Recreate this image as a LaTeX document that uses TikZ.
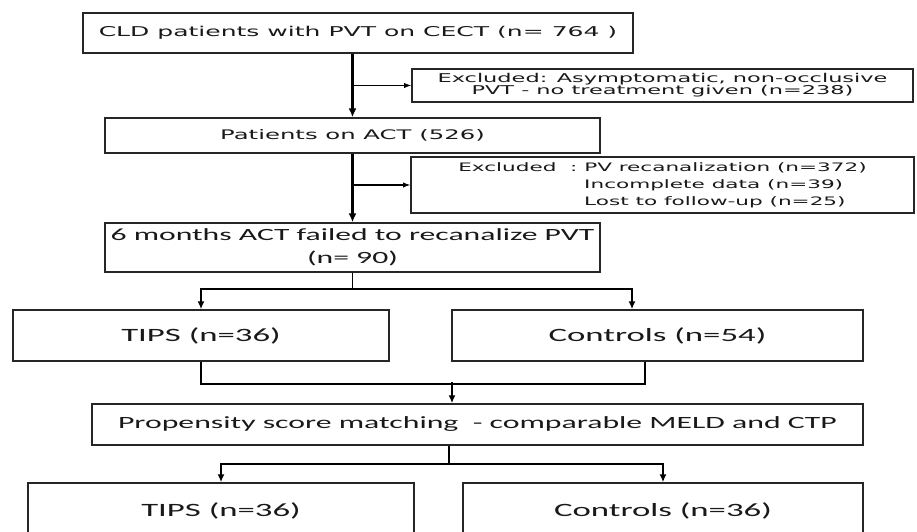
\documentclass[tikz,border=0pt]{standalone}
\usepackage{fontspec}
\setmainfont{DejaVu Sans}[FakeStretch=1.85]
\newfontfamily\calib{Carlito}[FakeStretch=1.85]
\usetikzlibrary{arrows.meta}
\begin{document}
\begin{tikzpicture}[
  box/.style={draw=black!85,line width=0.85pt,inner sep=0pt,align=center,text=black!90},
  link/.style={line width=1pt,-{Latex[length=4.5pt,width=4pt]}},
  mainlink/.style={line width=1.6pt,-{Latex[length=5pt,width=4.5pt]}},
  sidelink/.style={line width=0.6pt,-{Latex[length=4pt,width=3pt]}}]
\useasboundingbox (0,0) rectangle (18.34,10.62);

\node[box,minimum width=11cm,minimum height=0.8cm,font=\fontsize{7.7}{9}\selectfont] (cld) at (7.16,9.96) {CLD patients with PVT on CECT (n= 764 )};
\node[box,minimum width=10.02cm,minimum height=0.66cm,font=\fontsize{6.9}{6.8}\selectfont] (excl1) at (13.25,8.91) {Excluded: Asymptomatic, non-occlusive\\PVT - no treatment given (n=238)};
\node[box,minimum width=9.9cm,minimum height=0.7cm,font=\fontsize{7.49}{9}\selectfont] (act) at (7.05,7.91) {Patients on ACT (526)};
\node[box,minimum width=10.06cm,minimum height=1.12cm,font=\fontsize{6.63}{9.9}\selectfont] (excl2) at (13.25,6.92) {\begin{tabular}{@{}l@{\ }l@{}}Excluded\ \ : & PV recanalization (n=372)\\ & Incomplete data (n=39)\\ & Lost to follow-up (n=25)\end{tabular}};
\node[box,minimum width=9.9cm,minimum height=0.98cm,font=\calib\fontsize{9.74}{13}\selectfont] (fail) at (7.05,5.67) {6 months ACT failed to recanalize PVT\\(n= 90)};

\node[box,minimum width=7.52cm,minimum height=1.02cm,font=\calib\fontsize{10.7}{13}\selectfont] (tips1) at (4.02,3.91) {TIPS (n=36)};
\node[box,minimum width=8.22cm,minimum height=1.02cm,font=\calib\fontsize{10.7}{13}\selectfont] (ctrl1) at (13.15,3.91) {Controls (n=54)};
\node[box,minimum width=15.42cm,minimum height=0.82cm,font=\calib\fontsize{9.77}{12}\selectfont] (psm) at (9.55,2.13) {Propensity score matching\ \ - comparable MELD and CTP};
\node[box,minimum width=7.72cm,minimum height=1.12cm,font=\calib\fontsize{10.7}{13}\selectfont] (tips2) at (4.42,0.4) {TIPS (n=36)};
\node[box,minimum width=8cm,minimum height=1.12cm,font=\calib\fontsize{10.7}{13}\selectfont] (ctrl2) at (13.26,0.4) {Controls (n=36)};

\draw[mainlink] (cld.south -| act.north) -- (act.north);
\draw[sidelink] (act.north |- excl1.west) -- (excl1.west);
\draw[mainlink] (act.south) -- (fail.north);
\draw[sidelink] (act.south |- excl2.west) -- (excl2.west);

\draw[link] (fail.south) -- ++(0,-0.32) -| (tips1.north);
\draw[link] (fail.south) -- ++(0,-0.32) -| ([xshift=-0.51cm]ctrl1.north);
\draw[line width=1pt] (tips1.south) -- ++(0,-0.44) -| ([xshift=-0.25cm]ctrl1.south);
\coordinate (join) at ([xshift=-0.51cm,yshift=0.42cm]psm.north);
\draw[link] (join) -- (join |- psm.north);
\draw[link] ([xshift=-0.57cm]psm.south) -- ++(0,-0.36) -| (tips2.north);
\draw[link] ([xshift=-0.57cm]psm.south) -- ++(0,-0.36) -| (ctrl2.north);
\end{tikzpicture}
\end{document}
